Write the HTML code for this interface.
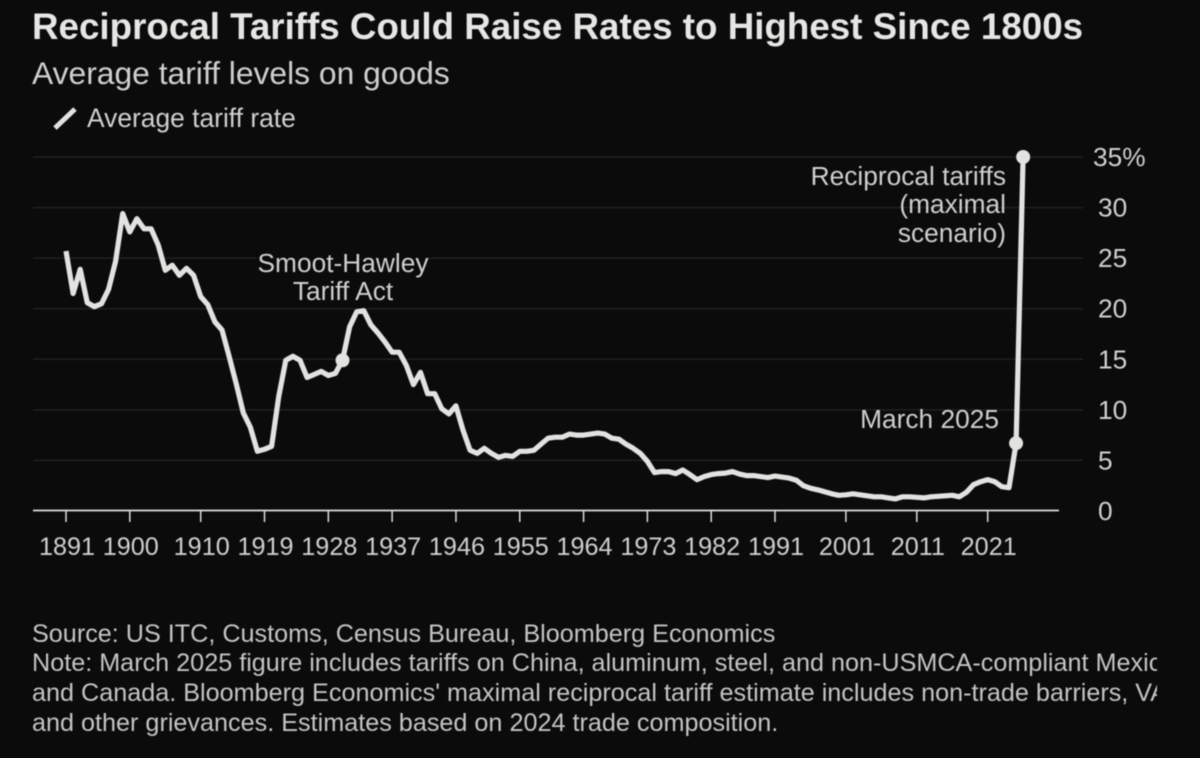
<!DOCTYPE html>
<html lang="en">
<head>
<meta charset="utf-8">
<title>Reciprocal Tariffs Could Raise Rates to Highest Since 1800s</title>
<style>
  html, body { margin: 0; padding: 0; background: #0b0b0b; }
  body { width: 1200px; height: 758px; overflow: hidden; position: relative; font-family: "Liberation Sans", sans-serif; }
  svg { position: absolute; left: 0; top: 0; filter: blur(0.4px); }
  text { font-family: "Liberation Sans", sans-serif; }
</style>
</head>
<body>
<svg id="chart" width="1200" height="758" viewBox="0 0 1200 758" xmlns="http://www.w3.org/2000/svg">
  <defs>
    <clipPath id="note-clip"><rect x="0" y="600" width="1157" height="158"/></clipPath>
  </defs>
  <rect x="0" y="0" width="1200" height="758" fill="#0b0b0b"/>
  <text x="32" y="39" font-size="36.75" font-weight="700" fill="#e6e6e4">Reciprocal Tariffs Could Raise Rates to Highest Since 1800s</text>
  <text x="32" y="84" font-size="31.8" fill="#cfcfcd">Average tariff levels on goods</text>
  <line x1="55" y1="128" x2="75" y2="109" stroke="#e2e2e0" stroke-width="5"/>
  <text x="87" y="127" font-size="26.4" fill="#cfcfcd">Average tariff rate</text>
  <g id="grid"></g>
  <rect x="257" y="250" width="172" height="16" fill="#0b0b0b"/>
  <g id="x-axis"></g>
  <g id="y-labels"></g>
  <g id="series"></g>
  <g font-size="26.3" fill="#cfcfcd">
    <text x="343" y="272" text-anchor="middle">Smoot-Hawley</text>
    <text x="343" y="300" text-anchor="middle">Tariff Act</text>
    <text x="1006" y="185" text-anchor="end">Reciprocal tariffs</text>
    <text x="1006" y="213" text-anchor="end">(maximal</text>
    <text x="1006" y="242" text-anchor="end">scenario)</text>
    <text x="999" y="428" text-anchor="end">March 2025</text>
  </g>
  <g font-size="25.2" fill="#c4c4c2" clip-path="url(#note-clip)">
    <text x="32" y="642">Source: US ITC, Customs, Census Bureau, Bloomberg Economics</text>
    <text x="32" y="671">Note: March 2025 figure includes tariffs on China, aluminum, steel, and non-USMCA-compliant Mexico</text>
    <text x="32" y="701">and Canada. Bloomberg Economics' maximal reciprocal tariff estimate includes non-trade barriers, VAT,</text>
    <text x="32" y="731">and other grievances. Estimates based on 2024 trade composition.</text>
  </g>
</svg>
<script>
const startYear = 1891;
const tariffValues = [
  25.7,21.5,23.9,20.6,20.2,20.5,21.9,24.7,29.4,27.6,
  28.9,27.9,27.9,26.3,23.8,24.3,23.3,24.0,23.3,21.2,
  20.4,18.7,17.9,15.3,12.6,9.7,8.3,5.9,6.1,6.4,
  11.3,14.9,15.3,14.9,13.2,13.5,13.8,13.4,13.6,14.9,
  18.2,19.7,19.8,18.4,17.6,16.7,15.7,15.7,14.4,12.5,
  13.7,11.6,11.6,10.1,9.6,10.4,8.0,6.0,5.7,6.2,
  5.7,5.3,5.5,5.4,5.9,5.9,6.0,6.6,7.2,7.3,
  7.3,7.6,7.5,7.5,7.6,7.7,7.6,7.2,7.1,6.6,
  6.2,5.7,4.9,3.8,3.9,3.9,3.7,4.05,3.6,3.1,
  3.4,3.6,3.7,3.75,3.9,3.65,3.5,3.5,3.4,3.3,
  3.45,3.35,3.25,3.05,2.5,2.25,2.1,1.9,1.7,1.55,
  1.6,1.7,1.6,1.5,1.4,1.4,1.3,1.2,1.4,1.4,
  1.35,1.3,1.4,1.45,1.5,1.55,1.4,1.85,2.6,2.9,
  3.1,2.9,2.4,2.3,6.7,35
];
const xTickYears = [1891,1900,1910,1919,1928,1937,1946,1955,1964,1973,1982,1991,2001,2011,2021];
const yTickValues = [0,5,10,15,20,25,30,35];
const yTickLabels = ["0","5","10","15","20","25","30","35%"];
const markerYears = [1930,2025,2026];

const SVG_NS = "http://www.w3.org/2000/svg";
function xScale(year) { return 66 + (year - 1891) * 7.09; }
function yScale(value) { return 511 - value * 10.114; }
function make(tag, attrs, parent) {
  const el = document.createElementNS(SVG_NS, tag);
  for (const k in attrs) el.setAttribute(k, attrs[k]);
  parent.appendChild(el);
  return el;
}

const gridG = document.getElementById("grid");
const yG = document.getElementById("y-labels");
yTickValues.forEach(function (v, i) {
  if (v !== 0) {
    const gl = make("line", {x1: 33, x2: 1083, y1: yScale(v), y2: yScale(v), stroke: "#2a2a2a", "stroke-width": 1}, gridG);
    
    
  }
  const t = make("text", {x: v === 35 ? 1093 : 1098, y: yScale(v) + 9, "font-size": 26.3, fill: "#cfcfcd", "text-anchor": "start"}, yG);
  t.textContent = yTickLabels[i];
  
  
});

const xG = document.getElementById("x-axis");
const axisLine = make("line", {x1: 33, x2: 1059, y1: 510.5, y2: 510.5, stroke: "#dcdcda", "stroke-width": 1.8}, xG);


xTickYears.forEach(function (year) {
  const tick = make("line", {x1: xScale(year), x2: xScale(year), y1: 511, y2: 522, stroke: "#dcdcda", "stroke-width": 1.5}, xG);
  
  
  const lab = make("text", {x: xScale(year) + 1, y: 555, "font-size": 25.2, fill: "#cfcfcd", "text-anchor": "middle"}, xG);
  lab.textContent = String(year);
  
  
});

const seriesG = document.getElementById("series");
const pathD = tariffValues.map(function (v, i) {
  return (i ? "L" : "M") + xScale(startYear + i).toFixed(1) + " " + yScale(v).toFixed(1);
}).join(" ");
const line = make("path", {d: pathD, fill: "none", stroke: "#e2e2e0", "stroke-width": 5.2, "stroke-linejoin": "round", "stroke-linecap": "butt"}, seriesG);


markerYears.forEach(function (year) {
  const idx = year - startYear;
  const dot = make("circle", {cx: xScale(year), cy: yScale(tariffValues[idx]), r: 7, fill: "#e2e2e0"}, seriesG);
  
  
});
</script>
</body>
</html>
